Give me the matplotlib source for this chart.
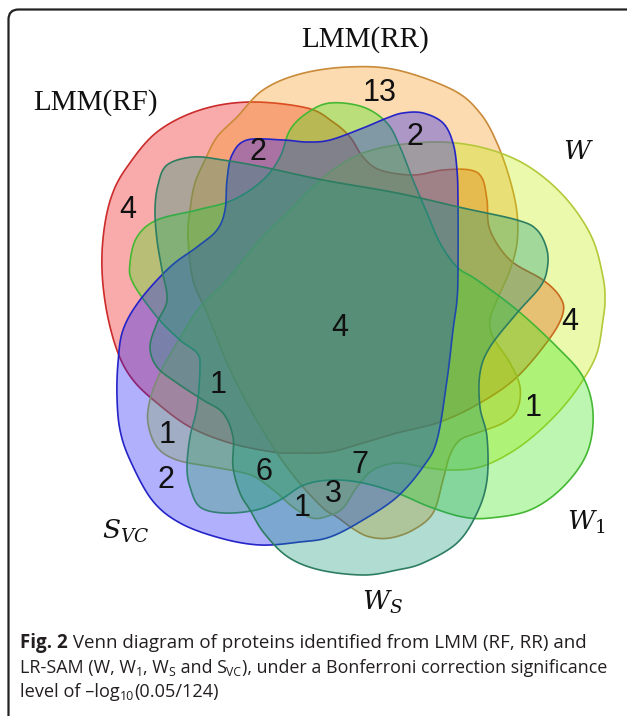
import numpy as np
import matplotlib
matplotlib.use("Agg")
import matplotlib.pyplot as plt
from matplotlib.path import Path
from matplotlib.patches import PathPatch, FancyBboxPatch

# ---------------- data ----------------
set_names = ["LMM(RF)", "LMM(RR)", "$W$", "$W_1$", "$W_S$", "$S_{VC}$"]
region_counts = [13, 2, 2, 4, 4, 4, 1, 1, 1, 2, 6, 7, 3, 1]
# caption pieces: (text, style) with style in bold / normal / sub
caption_line1 = [("Fig. 2", "bold"), (" Venn diagram of proteins identified from LMM (RF, RR) and", "normal")]
caption_line2 = [("LR-SAM (W, W", "normal"), ("1", "sub"), (", W", "normal"), ("S", "sub"),
                 (" and S", "normal"), ("VC", "sub"),
                 ("), under a Bonferroni correction significance", "normal")]
caption_line3 = [("level of \u2013log", "normal"), ("10", "sub"), ("(0.05/124)", "normal")]

# ---------------- layout (pixel coordinates) ----------------
W, H = 627, 716
count_pos = [(380, 93), (415, 137), (258, 152), (128, 210), (570, 322), (340, 328),
             (533, 408), (218, 385), (167, 435), (166, 480), (264, 472), (360, 465),
             (333, 494), (302, 508)]
label_pos = [(95, 103), (365, 40), (578, 152), (586, 522), (382, 602), (126, 531)]
label_serif = [True, True, False, False, False, False]

outline_red = [(250, 102), (307, 108), (333, 122), (350, 137), (363, 157), (380, 170), (413, 175),
               (443, 170), (470, 170), (482, 178), (487, 200), (490, 230), (510, 260), (543, 280),
               (560, 297), (563, 313), (550, 338), (517, 377), (480, 403), (440, 422), (397, 433),
               (363, 443), (330, 452), (297, 453), (273, 452), (230, 443), (190, 427), (157, 403),
               (133, 380), (118, 353), (107, 313), (102, 270), (104, 230), (112, 195), (127, 167),
               (157, 132), (200, 110)]
outline_orange = [(348, 67), (397, 70), (453, 90), (480, 113), (497, 143), (510, 180), (517, 213),
                  (517, 243), (510, 270), (497, 300), (490, 320), (493, 337), (510, 363), (520, 387),
                  (517, 410), (503, 423), (477, 433), (460, 440), (450, 455), (443, 480), (433, 513),
                  (413, 530), (390, 538), (370, 537), (355, 530), (337, 517), (323, 508), (297, 480),
                  (273, 447), (247, 403), (227, 363), (207, 313), (193, 280), (188, 237), (190, 210),
                  (195, 183), (205, 160), (217, 137), (237, 117), (263, 90), (300, 74)]
outline_yellow = [(363, 153), (397, 145), (440, 142), (480, 147), (517, 160), (547, 180), (573, 207),
                  (593, 240), (603, 277), (605, 300), (603, 320), (597, 353), (583, 380), (563, 407),
                  (537, 433), (510, 453), (480, 467), (450, 470), (423, 467), (397, 463), (373, 470),
                  (357, 487), (343, 508), (328, 516), (312, 518), (293, 507), (277, 493), (257, 478),
                  (240, 472), (213, 467), (177, 460), (157, 447), (148, 423), (150, 400), (160, 373),
                  (177, 343), (200, 307), (227, 280), (257, 243), (290, 210), (317, 183), (337, 167)]
outline_green = [(330, 103), (363, 107), (387, 123), (400, 147), (413, 180), (427, 213), (440, 243),
                 (457, 267), (477, 280), (517, 310), (557, 347), (583, 377), (593, 413), (587, 453),
                 (563, 487), (530, 510), (490, 518), (463, 517), (430, 507), (397, 493), (363, 483),
                 (332, 480), (304, 485), (280, 500), (256, 510), (224, 513), (200, 507), (190, 487),
                 (187, 467), (190, 437), (197, 407), (200, 367), (197, 353), (180, 340), (157, 317),
                 (133, 283), (130, 263), (137, 237), (157, 220), (197, 210), (233, 200), (263, 180),
                 (280, 157), (290, 130), (307, 113)]
outline_teal = [(193, 157), (223, 160), (263, 167), (323, 180), (397, 193), (463, 208), (517, 220),
                (537, 230), (547, 250), (547, 270), (540, 287), (517, 313), (490, 347), (480, 373),
                (480, 407), (487, 437), (487, 480), (477, 513), (457, 543), (423, 563), (397, 570),
                (364, 575), (320, 570), (288, 557), (264, 533), (250, 510), (240, 493), (233, 467),
                (233, 437), (223, 413), (203, 400), (177, 383), (157, 367), (150, 347), (157, 323),
                (167, 300), (162, 270), (157, 240), (155, 210), (158, 185), (167, 165)]
outline_blue = [(247, 140), (283, 140), (307, 142), (330, 140), (363, 128), (387, 118), (403, 113),
                (423, 113), (443, 123), (453, 143), (457, 170), (458, 203), (458, 270), (457, 300),
                (453, 330), (447, 380), (437, 440), (423, 467), (397, 497), (363, 520), (330, 537),
                (300, 542), (260, 545), (220, 538), (180, 523), (152, 500), (130, 460), (120, 430),
                (117, 397), (118, 363), (123, 330), (140, 300), (170, 267), (197, 247), (217, 230),
                (225, 210), (227, 180), (232, 155)]

shapes = [
    (outline_red, (0.93, 0.0, 0.0), "#cc2b2b"),
    (outline_orange, (0.96, 0.58, 0.05), "#c98a3a"),
    (outline_yellow, (0.76, 0.93, 0.01), "#b5c83a"),
    (outline_green, (0.22, 0.90, 0.06), "#45b833"),
    (outline_blue, (0.06, 0.06, 0.98), "#2424c8"),
    (outline_teal, (0.07, 0.59, 0.46), "#2d7d62"),
]


def catmull_rom_closed(pts, n=24):
    p = np.asarray(pts, dtype=float)
    m = len(p)
    out = []
    for i in range(m):
        p0, p1, p2, p3 = p[(i - 1) % m], p[i], p[(i + 1) % m], p[(i + 2) % m]
        t = np.linspace(0, 1, n, endpoint=False)[:, None]
        t2, t3 = t * t, t * t * t
        seg = 0.5 * ((2 * p1) + (-p0 + p2) * t + (2 * p0 - 5 * p1 + 4 * p2 - p3) * t2
                     + (-p0 + 3 * p1 - 3 * p2 + p3) * t3)
        out.append(seg)
    out = np.vstack(out)
    return np.vstack([out, out[:1]])


fig = plt.figure(figsize=(W / 100, H / 100), dpi=100)
ax = fig.add_axes([0, 0, 1, 1])
ax.set_xlim(0, W)
ax.set_ylim(H, 0)
ax.axis("off")

alpha = 0.33
for pts, fc, ec in shapes:
    curve = catmull_rom_closed(pts)
    codes = [Path.MOVETO] + [Path.LINETO] * (len(curve) - 2) + [Path.CLOSEPOLY]
    patch = PathPatch(Path(curve, codes), facecolor=(*fc, alpha), edgecolor=ec,
                      linewidth=1.2, zorder=2)
    ax.add_patch(patch)

for (x, y), c in zip(count_pos, region_counts):
    ax.text(x, y, str(c), fontsize=22, family="Liberation Sans", ha="center", va="center",
            color="#111111", zorder=5)

for (x, y), name, serif in zip(label_pos, set_names, label_serif):
    if serif:
        ax.text(x, y, name, fontsize=21, family="Liberation Serif", ha="center", va="center",
                color="#111111")
    else:
        ax.text(x, y, name, fontsize=19, ha="center", va="center", color="#111111",
                math_fontfamily="dejavuserif")

# border
border = FancyBboxPatch((8.5, 9.5), 660, 740, boxstyle="round,pad=0,rounding_size=10",
                        facecolor="none", edgecolor="#222222", linewidth=1.6, zorder=6)
ax.add_patch(border)

# caption
cap_font = "Open Sans"
renderer = fig.canvas.get_renderer()
inv = ax.transData.inverted()


def rich_line(x0, y, pieces, size):
    x = x0
    arts = []
    for text, style in pieces:
        if style == "sub":
            t = ax.text(x, y + 5, text, fontsize=size * 0.68, family=cap_font,
                        ha="left", va="center", color="#231f20")
        else:
            t = ax.text(x, y, text, fontsize=size, family=cap_font,
                        weight="bold" if style == "bold" else "normal",
                        ha="left", va="center", color="#231f20")
        bb = t.get_window_extent(renderer=renderer)
        x = inv.transform((bb.x1, bb.y0))[0]
        arts.append(t)
    return arts, x


def fit_line(x0, y, pieces, x_right, size=13.4):
    arts, x_end = rich_line(x0, y, pieces, size)
    for a in arts:
        a.remove()
    size = size * (x_right - x0) / (x_end - x0)
    rich_line(x0, y, pieces, size)


fit_line(20, 643, caption_line1, 588)
fit_line(20, 668, caption_line2, 610)
fit_line(20, 692, caption_line3, 218)

fig.savefig("out.png", dpi=100)
